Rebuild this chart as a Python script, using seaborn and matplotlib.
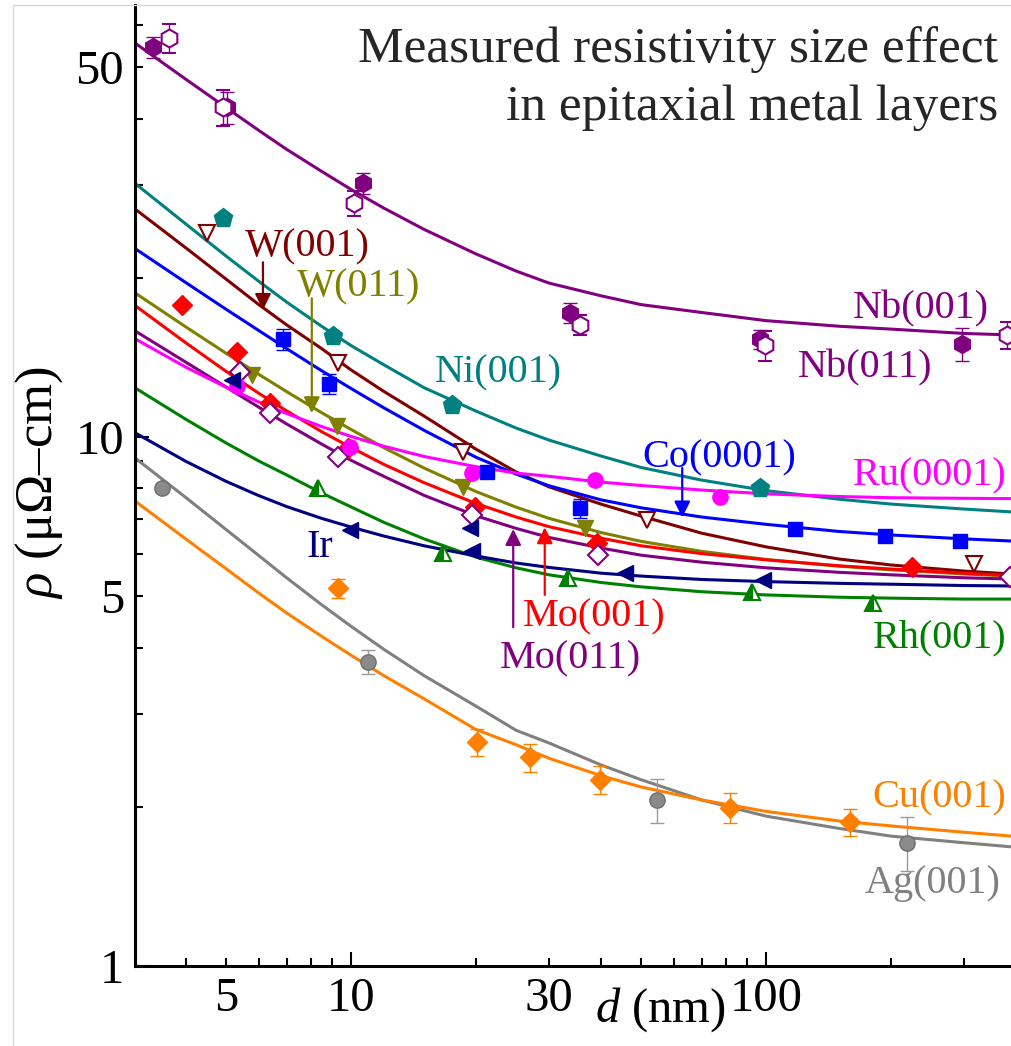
import seaborn as sns
import matplotlib.pyplot as plt
from matplotlib.lines import Line2D
from matplotlib.ticker import FixedLocator, FuncFormatter

# Measured resistivity size effect, log-log
# thickness values at which the fitted curves were read (nm)
d_fit = [3, 4, 5, 6, 7, 8.5, 10, 12, 15, 20, 25, 30, 40, 50, 70, 100, 150, 200, 300, 390]

fit_Nb = [55.8, 47.5, 42.0, 38.0, 35.0, 31.8, 29.4, 27.1, 24.7, 22.2, 20.6, 19.55, 18.5, 17.8,
          17.2, 16.6, 16.2, 16.0, 15.7, 15.6]
fit_Ni = [30.3, 25.3, 22.0, 19.7, 18.0, 16.2, 14.9, 13.7, 12.4, 11.2, 10.4, 9.87, 9.21, 8.76,
          8.29, 7.92, 7.63, 7.47, 7.31, 7.22]
fit_W001 = [27.1, 22.8, 19.9, 17.8, 16.3, 14.7, 13.4, 12.2, 10.96, 9.49, 8.59, 8.05, 7.47, 7.09,
            6.58, 6.20, 5.88, 5.73, 5.58, 5.51]
fit_Co = [22.8, 19.6, 17.45, 15.9, 14.7, 13.35, 12.36, 11.36, 10.3, 9.16, 8.51, 8.09, 7.61, 7.35,
          7.06, 6.84, 6.63, 6.53, 6.42, 6.36]
fit_W011 = [18.8, 16.16, 14.41, 13.14, 12.19, 11.12, 10.34, 9.55, 8.74, 7.89, 7.37, 7.02, 6.60,
            6.35, 6.08, 5.87, 5.70, 5.61, 5.51, 5.46]
fit_Mo001 = [17.8, 15.08, 13.32, 12.10, 11.21, 10.24, 9.56, 8.88, 8.20, 7.49, 7.06, 6.77, 6.44,
             6.23, 6.02, 5.86, 5.71, 5.63, 5.53, 5.47]
fit_Mo011 = [15.93, 13.86, 12.44, 11.39, 10.59, 9.70, 9.04, 8.43, 7.76, 7.10, 6.72, 6.46, 6.17,
             5.98, 5.80, 5.66, 5.55, 5.49, 5.42, 5.39]
fit_Ru = [15.39, 13.56, 12.43, 11.65, 11.08, 10.47, 10.03, 9.61, 9.19, 8.79, 8.55, 8.43, 8.22,
          8.10, 7.94, 7.81, 7.72, 7.68, 7.66, 7.65]
fit_Rh = [12.43, 10.81, 9.75, 9.01, 8.48, 7.84, 7.38, 6.90, 6.42, 5.93, 5.66, 5.49, 5.31, 5.21,
          5.10, 5.03, 4.98, 4.96, 4.94, 4.94]
fit_Ir = [10.22, 9.00, 8.25, 7.75, 7.39, 7.02, 6.76, 6.50, 6.23, 5.96, 5.78, 5.67, 5.53, 5.46,
          5.38, 5.33, 5.29, 5.27, 5.24, 5.23]
fit_Ag = [9.17, 7.69, 6.69, 5.97, 5.42, 4.82, 4.39, 3.97, 3.54, 3.10, 2.79, 2.64, 2.40, 2.25,
          2.06, 1.92, 1.82, 1.76, 1.71, 1.68]
fit_Cu = [7.60, 6.42, 5.64, 5.07, 4.65, 4.20, 3.87, 3.54, 3.20, 2.80, 2.62, 2.47, 2.29, 2.18,
          2.06, 1.96, 1.88, 1.84, 1.79, 1.76]

# measured points
d_Nb001 = [3.33, 5.03, 10.7, 33.7, 96.7, 296]
r_Nb001 = [54.6, 42.0, 30.2, 17.2, 15.3, 15.0]
e_Nb001 = [2.5, 3.0, 1.4, 0.75, 0.65, 1.1]
d_Nb011 = [3.64, 4.92, 10.2, 35.6, 99.4, 381]
r_Nb011 = [56.8, 42.0, 27.7, 16.3, 14.9, 15.6]
e_Nb011 = [3.6, 3.3, 1.5, 0.7, 1.0, 0.9]
d_Ni = [4.92, 9.05, 17.5, 96.7]
r_Ni = [25.9, 15.5, 11.5, 8.01]
d_W001 = [4.50, 9.30, 18.6, 51.7, 317]
r_W001 = [24.3, 13.8, 9.37, 6.97, 5.75]
d_W011 = [5.77, 9.25, 18.6, 36.6]
r_W011 = [13.1, 10.5, 8.05, 6.73]
d_Co = [6.86, 8.85, 21.3, 35.6, 117.5, 193.6, 293]
r_Co = [15.3, 12.6, 8.59, 7.34, 6.70, 6.50, 6.36]
e_Co = [0.7, 0.55, 0.0, 0.3, 0.0, 0.0, 0.0]
d_Mo001 = [3.91, 5.31, 6.38, 9.83, 19.9, 39.2, 224.7]
r_Mo001 = [17.8, 14.5, 11.6, 9.53, 7.38, 6.30, 5.68]
d_Mo011 = [5.40, 6.38, 9.30, 19.6, 39.4, 387]
r_Mo011 = [13.3, 11.1, 9.17, 7.12, 5.98, 5.44]
d_Ru = [5.31, 9.94, 19.6, 38.7, 77.5]
r_Ru = [12.5, 9.58, 8.55, 8.29, 7.70]
d_Rh = [8.33, 16.7, 33.3, 92.5, 181]
r_Rh = [8.01, 6.04, 5.41, 5.09, 4.86]
d_Ir = [5.17, 9.94, 19.4, 19.6, 45.7, 98.4]
r_Ir = [12.8, 6.67, 6.73, 6.09, 5.53, 5.37]
d_Ag = [3.50, 11.0, 54.6, 218.6]
r_Ag = [8.01, 3.76, 2.06, 1.71]
e_Ag = [0.15, 0.2, 0.2, 0.2]
d_Cu = [9.30, 20.1, 27.0, 39.8, 81.9, 159]
r_Cu = [5.18, 2.65, 2.48, 2.25, 1.99, 1.87]
e_Cu = [0.22, 0.16, 0.15, 0.14, 0.13, 0.11]

purple = '#800080'
teal = '#008080'
maroon = '#800000'
olive = '#808000'
blue = '#0000ff'
red = '#ff0000'
magenta = '#ff00ff'
green = '#008000'
navy = '#000080'
gray = '#808080'
orange = '#ff8000'

sns.set_theme(style='ticks')
plt.rcParams['font.family'] = ['Liberation Serif', 'DejaVu Serif']
plt.rcParams['mathtext.fontset'] = 'custom'
plt.rcParams['mathtext.rm'] = 'Liberation Serif'
plt.rcParams['mathtext.it'] = 'Liberation Serif:italic'

fig = plt.figure(figsize=(10.12, 10.46), dpi=100)
ax = fig.add_axes([135 / 1012, 80 / 1046, 877 / 1012, 961 / 1046])

curves = [
    (fit_Nb, purple), (fit_Ni, teal), (fit_W001, maroon), (fit_Co, blue),
    (fit_W011, olive), (fit_Mo001, red), (fit_Mo011, purple), (fit_Ru, magenta),
    (fit_Rh, green), (fit_Ir, navy), (fit_Ag, gray), (fit_Cu, orange),
]
for fit, c in curves:
    sns.lineplot(x=d_fit, y=fit, color=c, lw=2.2, ax=ax, legend=False)

ax.set_xscale('log')
ax.set_yscale('log')

# data points
ax.errorbar(d_Nb001, r_Nb001, yerr=e_Nb001, fmt='h', color=purple, ms=13,
            ecolor=purple, elinewidth=1, capsize=5, zorder=5)
ax.errorbar(d_Nb011, r_Nb011, yerr=e_Nb011, fmt='h', color=purple, mfc='white',
            mew=1.5, ms=13, ecolor=purple, elinewidth=1, capsize=5, zorder=5)
ax.plot(d_Ni, r_Ni, 'p', color=teal, ms=14, zorder=5)
ax.plot(d_W001, r_W001, 'v', color=maroon, mfc='white', mew=1.5, ms=12, zorder=5)
ax.plot(d_W011, r_W011, 'v', color=olive, ms=12, zorder=5)
ax.errorbar(d_Co, r_Co, yerr=e_Co, fmt='s', color=blue, ms=10,
            elinewidth=1, capsize=5, zorder=5)
ax.plot(d_Mo001, r_Mo001, 'D', color=red, ms=10, zorder=5)
ax.plot(d_Mo011, r_Mo011, 'D', color=purple, mfc='white', mew=1.5, ms=10, zorder=5)
ax.plot(d_Ru, r_Ru, 'o', color=magenta, ms=11, zorder=5)
ax.plot(d_Rh, r_Rh, '^', color=green, fillstyle='left', markerfacecoloralt='white',
        mew=1.5, ms=12, zorder=5)
ax.plot(d_Ir, r_Ir, '<', color=navy, ms=12, zorder=5)
ax.errorbar(d_Ag, r_Ag, yerr=e_Ag, fmt='o', color='#8a8a8a', mec='#6e6e6e', ms=11,
            ecolor='#9a9a9a', elinewidth=1, capsize=5, zorder=5)
ax.errorbar(d_Cu, r_Cu, yerr=e_Cu, fmt='D', color=orange, ms=10,
            ecolor=orange, elinewidth=1, capsize=5, zorder=5)

# arrows pointing to curves
arrows = [
    ((6.14, 21.4), (6.14, 17.4), maroon),
    ((8.05, 18.3), (8.05, 11.1), olive),
    ((62.8, 8.74), (62.8, 7.05), blue),
    ((29.3, 5.03), (29.3, 6.75), red),
    ((24.6, 4.37), (24.6, 6.70), purple),
]
for tail, head, c in arrows:
    ax.annotate('', xy=head, xytext=tail,
                arrowprops=dict(arrowstyle='-|>', color=c, lw=1.6,
                                mutation_scale=24, shrinkA=0, shrinkB=0))

labels = [
    ('Nb(001)', 0.819, 0.674, purple),
    ('Nb(011)', 0.756, 0.613, purple),
    ('Ni(001)', 0.342, 0.607, teal),
    ('W(001)', 0.125, 0.738, maroon),
    ('W(011)', 0.185, 0.697, olive),
    ('Co(0001)', 0.578, 0.519, blue),
    ('Ru(0001)', 0.818, 0.500, magenta),
    ('Ir', 0.196, 0.426, navy),
    ('Mo(001)', 0.442, 0.353, red),
    ('Mo(011)', 0.416, 0.310, purple),
    ('Rh(001)', 0.841, 0.332, green),
    ('Cu(001)', 0.841, 0.165, orange),
    ('Ag(001)', 0.832, 0.076, gray),
]
for s, fx, fy, c in labels:
    ax.text(fx, fy, s, transform=ax.transAxes, color=c, fontsize=29,
            ha='left', va='baseline')

fig.text(998 / 1012, 1 - 62 / 1046, 'Measured resistivity size effect',
         ha='right', va='baseline', fontsize=37)
fig.text(998 / 1012, 1 - 120 / 1046, 'in epitaxial metal layers',
         ha='right', va='baseline', fontsize=37)

# axes
ax.set_xlim(3.02, 391)
ax.set_ylim(1, 65.6)
ax.xaxis.set_major_locator(FixedLocator([10, 100]))
ax.xaxis.set_minor_locator(FixedLocator([4, 5, 6, 7, 8, 9, 20, 30, 40, 50, 60, 70,
                                         80, 90, 200, 300]))
ax.yaxis.set_major_locator(FixedLocator([1, 10]))
ax.yaxis.set_minor_locator(FixedLocator([2, 3, 4, 5, 6, 7, 8, 9, 20, 30, 40, 50, 60]))
ax.xaxis.set_major_formatter(FuncFormatter(lambda v, p: '%d' % v))
ax.yaxis.set_major_formatter(FuncFormatter(lambda v, p: '%d' % v))
ax.xaxis.set_minor_formatter(FuncFormatter(lambda v, p: '%d' % v if round(v) in (5, 30) else ''))
ax.yaxis.set_minor_formatter(FuncFormatter(lambda v, p: '%d' % v if round(v) in (5, 50) else ''))

ax.tick_params(which='both', direction='in', color='black', width=1.5,
               labelsize=35, labelcolor='black', pad=8)
ax.tick_params(which='major', length=10)
ax.tick_params(which='minor', length=6)

for side in ('left', 'bottom'):
    ax.spines[side].set_color('black')
    ax.spines[side].set_linewidth(2.2)
ax.spines['right'].set_visible(False)
ax.spines['top'].set_visible(False)

ax.set_xlabel('$d$ (nm)', fontsize=35, color='black')
ax.xaxis.set_label_coords(0.599, -0.02)
ax.set_ylabel(r'$\rho$ (μΩ–cm)', fontsize=38, color='black')
ax.yaxis.set_label_coords(-0.08, 0.503)

# thin frame of the original picture
fig.add_artist(Line2D([13 / 1012, 13 / 1012], [0, 1 - 5 / 1046], color='#d8d8d8', lw=1))
fig.add_artist(Line2D([13 / 1012, 1], [1 - 5 / 1046, 1 - 5 / 1046], color='#d8d8d8', lw=1))

fig.savefig('out.png', dpi=100, facecolor='white')
